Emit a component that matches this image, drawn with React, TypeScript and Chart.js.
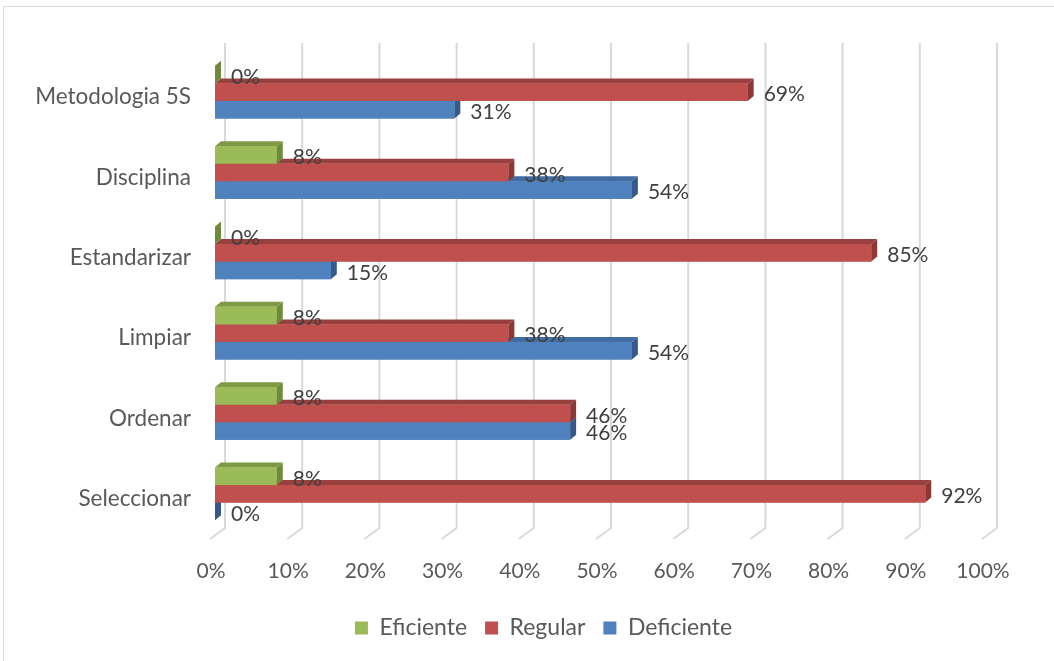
import React, { useEffect, useRef } from 'react';
import { Chart, registerables } from 'chart.js';
Chart.register(...registerables);

const categories = ['Metodologia 5S', 'Disciplina', 'Estandarizar', 'Limpiar', 'Ordenar', 'Seleccionar'];
const seriesNames = ['Eficiente', 'Regular', 'Deficiente'];
const eficiente = [0, 8, 0, 8, 8, 8];
const regular = [69, 38, 85, 38, 46, 92];
const deficiente = [31, 54, 15, 54, 46, 0];
const xTickValues = [0, 10, 20, 30, 40, 50, 60, 70, 80, 90, 100];

const FONT = 'Lato';
const faces = [
  { front: '#9BBB59', top: '#7E9A45', side: '#6F8A3A' },
  { front: '#C0504D', top: '#98403D', side: '#8C3836' },
  { front: '#4F81BD', top: '#416DA3', side: '#34598A' },
];
const DX = 6;
const DY = 5;

const gridPlugin = {
  id: 'grid3d',
  beforeDraw(chart: any) {
    if (chart.legend) {
      chart.legend.left += 50;
      chart.legend.right += 50;
    }
  },
  beforeDatasetsDraw(chart: any) {
    const ctx = chart.ctx;
    const xs = chart.scales.x;
    const { top, bottom } = chart.chartArea;
    ctx.save();
    ctx.strokeStyle = '#D9D9D9';
    ctx.lineWidth = 2;
    for (const v of xTickValues) {
      const px = xs.getPixelForValue(v);
      ctx.beginPath();
      ctx.moveTo(px + 10, top - 9);
      ctx.lineTo(px + 10, bottom - 6);
      ctx.lineTo(px - 5, bottom + 5);
      ctx.stroke();
    }
    ctx.restore();
  },
};

const barsPlugin = {
  id: 'bars3d',
  afterDatasetsDraw(chart: any) {
    const ctx = chart.ctx;
    ctx.save();
    for (const di of [2, 1, 0]) {
      const meta = chart.getDatasetMeta(di);
      const f = faces[di];
      meta.data.forEach((el: any) => {
        const p = el.getProps(['x', 'y', 'base', 'height'], true);
        const x0 = Math.min(p.base, p.x);
        const x1 = Math.max(p.base, p.x);
        const t = p.y - p.height / 2;
        const b = p.y + p.height / 2;
        ctx.fillStyle = f.top;
        ctx.beginPath();
        ctx.moveTo(x0, t);
        ctx.lineTo(x0 + DX, t - DY);
        ctx.lineTo(x1 + DX, t - DY);
        ctx.lineTo(x1, t);
        ctx.closePath();
        ctx.fill();
        ctx.fillStyle = f.side;
        ctx.beginPath();
        ctx.moveTo(x1, t);
        ctx.lineTo(x1 + DX, t - DY);
        ctx.lineTo(x1 + DX, b - DY);
        ctx.lineTo(x1, b);
        ctx.closePath();
        ctx.fill();
        ctx.fillStyle = f.front;
        ctx.fillRect(x0, t, x1 - x0, b - t);
      });
    }
    ctx.fillStyle = '#404040';
    ctx.font = `21px ${FONT}`;
    ctx.textAlign = 'left';
    ctx.textBaseline = 'middle';
    for (let di = 0; di < 3; di++) {
      const meta = chart.getDatasetMeta(di);
      const data = chart.data.datasets[di].data;
      meta.data.forEach((el: any, i: number) => {
        const p = el.getProps(['x', 'y'], true);
        ctx.fillText(`${data[i]}%`, p.x + 16, p.y + 2.5);
      });
    }
    ctx.restore();
  },
};

export default function App() {
  const ref = useRef<HTMLCanvasElement>(null);
  useEffect(() => {
    const chart = new Chart(ref.current!, {
      type: 'bar',
      data: {
        labels: categories,
        datasets: [eficiente, regular, deficiente].map((d, i) => ({
          label: seriesNames[i],
          data: d,
          backgroundColor: faces[i].front,
          borderWidth: 0,
          categoryPercentage: 0.655,
          barPercentage: 1,
        })),
      },
      options: {
        indexAxis: 'y',
        responsive: false,
        animation: false,
        layout: { padding: { top: 52, right: 67, bottom: 11.5, left: 0 } },
        scales: {
          x: {
            type: 'linear',
            min: 0,
            max: 100,
            grid: { display: false },
            border: { display: false },
            afterBuildTicks: (s: any) => {
              s.ticks = xTickValues.map((v) => ({ value: v }));
            },
            ticks: {
              autoSkip: false,
              maxRotation: 0,
              padding: 17,
              labelOffset: -4,
              color: '#595959',
              font: { family: FONT, size: 21 },
              callback: (v: any) => `${v}%`,
            },
            afterFit: (s: any) => {
              s.height = 64.5;
            },
          },
          y: {
            type: 'category',
            grid: { display: false },
            border: { display: false },
            ticks: {
              padding: 16,
              labelOffset: 5,
              color: '#595959',
              font: { family: FONT, size: 22.5 },
            },
            afterFit: (s: any) => {
              s.width = 215;
            },
          },
        },
        plugins: {
          legend: {
            position: 'bottom',
            labels: {
              boxWidth: 13,
              boxHeight: 13,
              padding: 18,
              color: '#595959',
              font: { family: FONT, size: 23 },
            },
          },
          tooltip: { enabled: false },
        },
      },
      plugins: [gridPlugin, barsPlugin],
    });
    return () => chart.destroy();
  }, []);
  return (
    <div style={{ position: 'fixed', left: 0, top: 0, width: 1054, height: 661, overflow: 'hidden', background: '#fff' }}>
      <div style={{ position: 'absolute', left: 3, top: 6, width: 1200, height: 800, border: '1px solid #D9D9D9' }} />
      <canvas ref={ref} width={1054} height={661} style={{ position: 'absolute', left: 0, top: 0 }} />
    </div>
  );
}
